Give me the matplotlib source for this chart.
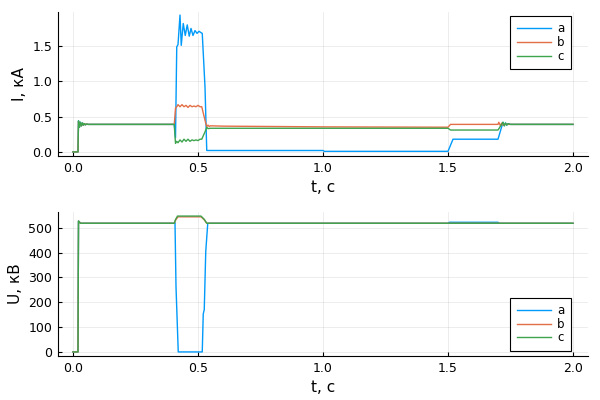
import matplotlib
matplotlib.use("Agg")
import matplotlib.pyplot as plt

# palette of Plots.jl
colors = ["#009AFA", "#E36F47", "#3EA44E"]
names = ["a", "b", "c"]

# ---- current, kA ----
t_Ia = [0, 0.02, 0.022, 0.026, 0.03, 0.034, 0.038, 0.042, 0.046, 0.05, 0.055, 0.06, 0.07,
        0.405, 0.41, 0.415, 0.42, 0.428, 0.433, 0.441, 0.449, 0.457, 0.465, 0.472, 0.48,
        0.488, 0.496, 0.504, 0.512, 0.517, 0.528, 0.535, 1.0, 1.005, 1.5, 1.52, 1.7,
        1.72, 1.725, 1.73, 1.735, 1.74, 1.75, 2.0]
Ia = [0, 0, 0.44, 0.35, 0.42, 0.37, 0.41, 0.38, 0.40, 0.385, 0.395, 0.39, 0.39,
      0.39, 0.2, 1.49, 1.52, 1.94, 1.51, 1.82, 1.65, 1.8, 1.64, 1.75, 1.65,
      1.72, 1.68, 1.71, 1.69, 1.68, 0.92, 0.02, 0.02, 0.008, 0.008, 0.18, 0.18,
      0.42, 0.37, 0.41, 0.38, 0.40, 0.39, 0.39]

t_Ib = [0, 0.02, 0.022, 0.026, 0.03, 0.034, 0.038, 0.042, 0.046, 0.05, 0.055, 0.06, 0.07,
        0.405, 0.41, 0.415, 0.42, 0.428, 0.436, 0.444, 0.452, 0.46, 0.468, 0.476, 0.484,
        0.492, 0.5, 0.508, 0.515, 0.53, 0.535, 0.54, 0.545, 0.55, 0.6, 1.0, 1.5, 1.51, 1.7,
        1.703, 1.71, 1.715, 1.72, 1.73, 2.0]
Ib = [0, 0, 0.43, 0.36, 0.41, 0.37, 0.405, 0.38, 0.40, 0.385, 0.395, 0.39, 0.39,
      0.39, 0.62, 0.64, 0.67, 0.64, 0.67, 0.64, 0.66, 0.63, 0.66, 0.64, 0.65,
      0.64, 0.66, 0.64, 0.64, 0.42, 0.36, 0.38, 0.36, 0.37, 0.365, 0.355, 0.35, 0.39, 0.39,
      0.42, 0.37, 0.41, 0.38, 0.39, 0.39]

t_Ic = [0, 0.02, 0.022, 0.026, 0.03, 0.034, 0.038, 0.042, 0.046, 0.05, 0.055, 0.06, 0.07,
        0.405, 0.41, 0.415, 0.42, 0.428, 0.436, 0.444, 0.452, 0.46, 0.468, 0.476, 0.484,
        0.492, 0.5, 0.508, 0.515, 0.53, 0.535, 0.54, 0.55, 1.0, 1.5, 1.51, 1.7,
        1.72, 1.725, 1.73, 1.735, 1.74, 1.75, 2.0]
Ic = [0, 0, 0.44, 0.35, 0.42, 0.37, 0.41, 0.38, 0.40, 0.385, 0.395, 0.39, 0.39,
      0.39, 0.12, 0.15, 0.13, 0.17, 0.14, 0.18, 0.15, 0.18, 0.15, 0.17, 0.16,
      0.17, 0.16, 0.18, 0.18, 0.30, 0.35, 0.33, 0.335, 0.335, 0.335, 0.31, 0.31,
      0.42, 0.37, 0.41, 0.38, 0.40, 0.39, 0.39]

# ---- voltage, kV ----
t_Ua = [0, 0.02, 0.022, 0.03, 0.405, 0.408, 0.412, 0.421, 0.517, 0.521, 0.525, 0.531,
        0.539, 1.5, 1.505, 1.7, 1.705, 2.0]
Ua = [0, 0, 527, 518, 518, 520, 263, 0, 0, 153, 170, 404,
      518, 518, 522, 522, 518, 518]

t_Ub = [0, 0.02, 0.022, 0.03, 0.405, 0.41, 0.42, 0.512, 0.525, 0.535, 2.0]
Ub = [0, 0, 527, 518, 518, 530, 544, 544, 532, 518, 518]

t_Uc = [0, 0.02, 0.022, 0.03, 0.405, 0.41, 0.418, 0.512, 0.525, 0.535, 2.0]
Uc = [0, 0, 527, 518, 518, 533, 547, 547, 534, 518, 518]

plt.rcParams['font.family'] = ['DejaVu Sans']

fig = plt.figure(figsize=(6, 4), dpi=100)
ax1 = fig.add_axes([58/600, 1 - 156/400, 530/600, 144.5/400])
ax2 = fig.add_axes([58/600, 1 - 356/400, 530/600, 144/400])

for ax, data, ylab, ylim, yt in [
        (ax1, [(t_Ia, Ia), (t_Ib, Ib), (t_Ic, Ic)], "I, кА", (-0.058, 1.99), [0, 0.5, 1.0, 1.5]),
        (ax2, [(t_Ua, Ua), (t_Ub, Ub), (t_Uc, Uc)], "U, кВ", (-16.4, 563.4), [0, 100, 200, 300, 400, 500])]:
    for (t, v), c, n in zip(data, colors, names):
        ax.plot(t, v, color=c, lw=1.0, label=n)
    ax.set_xlim(-0.06, 2.06)
    ax.set_ylim(*ylim)
    ax.set_xticks([0, 0.5, 1.0, 1.5, 2.0])
    ax.set_xticklabels(["0.0", "0.5", "1.0", "1.5", "2.0"])
    ax.set_yticks(yt)
    if ax is ax1:
        ax.set_yticklabels(["0.0", "0.5", "1.0", "1.5"])
    ax.grid(True, color="black", alpha=0.1, lw=0.5)
    ax.spines["top"].set_visible(False)
    ax.spines["right"].set_visible(False)
    ax.tick_params(direction="in", length=3, labelsize=9, width=0.8, pad=4)
    ax.set_xlabel("t, c", fontsize=11)
    ax.set_ylabel(ylab, fontsize=11)
    if ax is ax1:
        pos = dict(loc="upper right", bbox_to_anchor=(0.968, 0.969))
    else:
        pos = dict(loc="lower right", bbox_to_anchor=(0.968, 0.035))
    leg = ax.legend(**pos, fontsize=8.5, fancybox=False, edgecolor="black",
                    framealpha=1, handlelength=2.9, handletextpad=0.5,
                    borderaxespad=0, labelspacing=0.05, borderpad=0.55)
    leg.get_frame().set_linewidth(0.8)

fig.savefig("out.png", dpi=100)
